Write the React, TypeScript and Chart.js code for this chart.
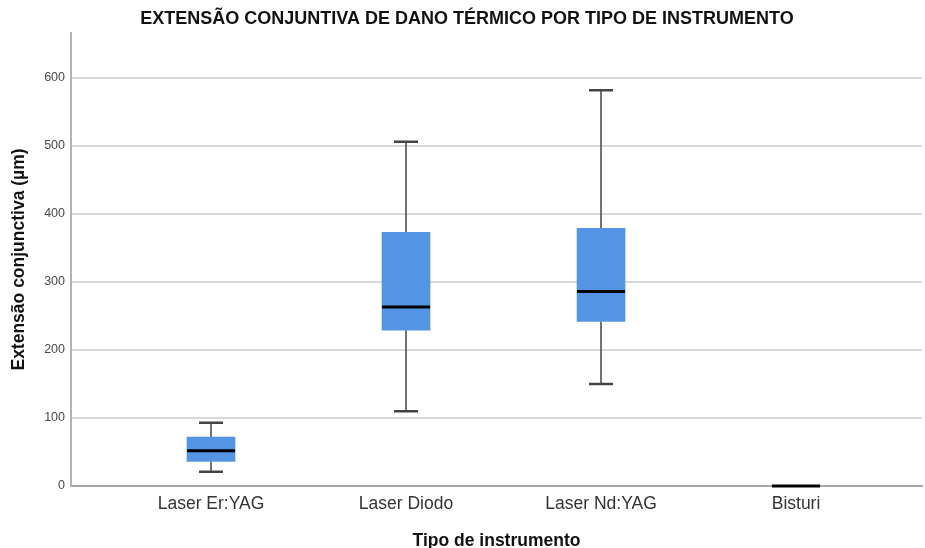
import React, { useEffect, useRef } from "react";
import { Chart, registerables } from "chart.js";

Chart.register(...registerables);

const categories = ["Laser Er:YAG", "Laser Diodo", "Laser Nd:YAG", "Bisturi"];
const whiskerMin = [21, 110, 150, 0];
const q1 = [36, 229, 242, 0];
const median = [52, 263, 286, 0];
const q3 = [72, 373, 379, 0];
const whiskerMax = [93, 506, 582, 0];
const yTicks = [0, 100, 200, 300, 400, 500, 600];

const FONT = "'Liberation Sans', Arial, sans-serif";
const BOX_COLOR = "#5394E4";
const BOX_W = 48;
const CAP_W = 24;

const boxPlugin = {
  id: "boxExtras",
  beforeDatasetsDraw(chart: any) {
    const { ctx } = chart;
    const x = chart.scales.x;
    const y = chart.scales.y;
    ctx.save();
    ctx.strokeStyle = "#444444";
    categories.forEach((_, i) => {
      if (whiskerMax[i] === whiskerMin[i]) return;
      const cx = x.getPixelForValue(i);
      const yMax = y.getPixelForValue(whiskerMax[i]);
      const yMin = y.getPixelForValue(whiskerMin[i]);
      const yQ1 = y.getPixelForValue(q1[i]);
      const yQ3 = y.getPixelForValue(q3[i]);
      ctx.lineWidth = 1.5;
      ctx.beginPath();
      ctx.moveTo(cx, yMax);
      ctx.lineTo(cx, yQ3);
      ctx.moveTo(cx, yQ1);
      ctx.lineTo(cx, yMin);
      ctx.stroke();
      ctx.lineWidth = 2.5;
      ctx.beginPath();
      ctx.moveTo(cx - CAP_W / 2, yMax);
      ctx.lineTo(cx + CAP_W / 2, yMax);
      ctx.moveTo(cx - CAP_W / 2, yMin);
      ctx.lineTo(cx + CAP_W / 2, yMin);
      ctx.stroke();
    });
    ctx.restore();
  },
  afterDatasetsDraw(chart: any) {
    const { ctx } = chart;
    const x = chart.scales.x;
    const y = chart.scales.y;
    ctx.save();
    ctx.strokeStyle = "#000000";
    ctx.lineWidth = 3;
    categories.forEach((_, i) => {
      const cx = x.getPixelForValue(i);
      const ym = y.getPixelForValue(median[i]);
      ctx.beginPath();
      ctx.moveTo(cx - BOX_W / 2, ym);
      ctx.lineTo(cx + BOX_W / 2, ym);
      ctx.stroke();
    });
    ctx.restore();
  },
};

export default function App() {
  const ref = useRef<HTMLCanvasElement | null>(null);

  useEffect(() => {
    if (!ref.current) return;
    const chart = new Chart(ref.current, {
      type: "bar",
      data: {
        datasets: [
          {
            label: "Caixa",
            data: categories.map((_, i) => ({ x: i, y: [q1[i], q3[i]] })) as any,
            backgroundColor: BOX_COLOR,
            borderWidth: 0,
            barThickness: BOX_W,
          } as any,
        ],
      },
      options: {
        responsive: false,
        animation: false,
        devicePixelRatio: 1,
        layout: { padding: { left: 12, right: 3, top: 0, bottom: 0 } },
        plugins: {
          legend: { display: false },
          tooltip: { enabled: false },
          title: {
            display: true,
            text: "EXTENSÃO CONJUNTIVA DE DANO TÉRMICO POR TIPO DE INSTRUMENTO",
            color: "#111111",
            font: { family: FONT, size: 18, weight: "bold", lineHeight: 1.2 },
            padding: { top: 8, bottom: 3.4 },
          },
        },
        scales: {
          x: {
            type: "linear",
            min: -0.718,
            max: 3.646,
            offset: false,
            grid: { display: false, drawTicks: false },
            border: { display: true, color: "#a8a8a8", width: 2 },
            afterBuildTicks: (scale: any) => {
              scale.ticks = categories.map((_, i) => ({ value: i }));
            },
            afterFit: (scale: any) => {
              scale.height = 62;
            },
            ticks: {
              autoSkip: false,
              maxRotation: 0,
              padding: 8,
              color: "#333333",
              font: { family: FONT, size: 17.5 },
              callback: (v: any) => categories[Number(v)] ?? "",
            },
            title: {
              display: true,
              text: "Tipo de instrumento",
              color: "#111111",
              font: { family: FONT, size: 17.5, weight: "bold", lineHeight: 0.8 },
              padding: { top: 0, bottom: 0 },
            },
          },
          y: {
            type: "linear",
            min: 0,
            max: 666,
            grid: { color: "#d9d9d9", lineWidth: 2, drawTicks: false },
            border: { display: true, color: "#b3b3b3", width: 2 },
            afterBuildTicks: (scale: any) => {
              scale.ticks = yTicks.map((v) => ({ value: v }));
            },
            afterFit: (scale: any) => {
              scale.width = 59;
            },
            ticks: {
              padding: 6,
              color: "#4a4a4a",
              font: { family: FONT, size: 12.5 },
            },
            title: {
              display: true,
              text: "Extensão conjunctiva (µm)",
              color: "#111111",
              font: { family: FONT, size: 17.5, weight: "bold", lineHeight: 0.6 },
              padding: { top: 1.5, bottom: 0 },
            },
          },
        },
      },
      plugins: [boxPlugin],
    });
    return () => chart.destroy();
  }, []);

  return (
    <div style={{ position: "absolute", left: 0, top: 0, width: 925, height: 548, background: "#ffffff" }}>
      <canvas ref={ref} width={925} height={548} />
    </div>
  );
}
